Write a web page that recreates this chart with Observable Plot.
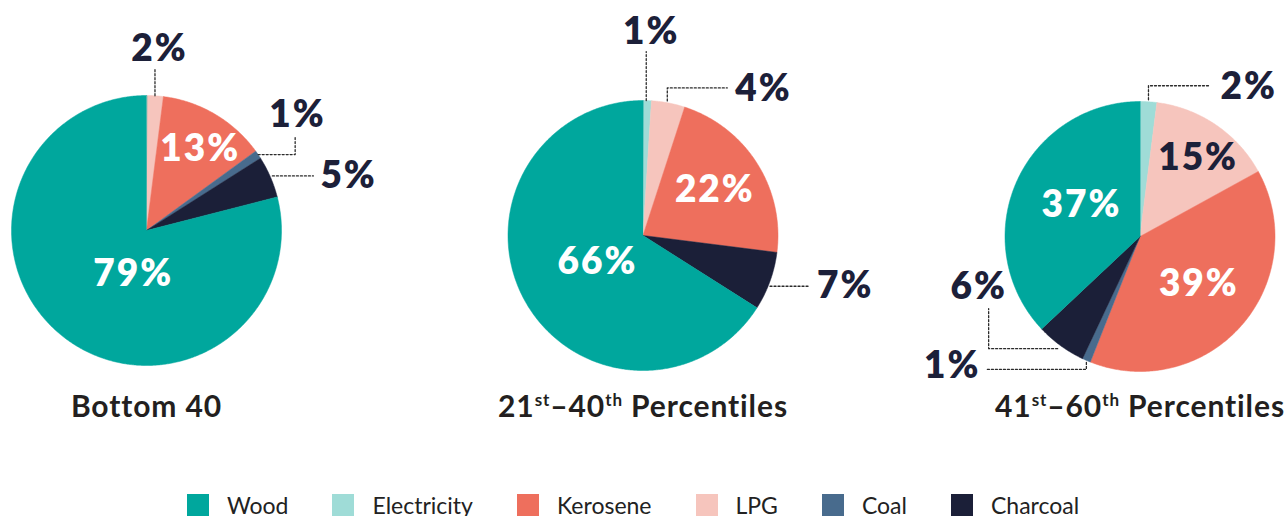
<!DOCTYPE html>
<html>
<head>
<meta charset="utf-8">
<script src="https://cdn.jsdelivr.net/npm/d3@7"></script>
<script src="https://cdn.jsdelivr.net/npm/@observablehq/plot@0.6"></script>
<style>
  body { margin: 0; background: #fff; font-family: Lato, "Open Sans", sans-serif; }
  #legend { display: flex; align-items: center; padding-left: 187px; margin-top: 14px; height: 22px; }
  .item { display: flex; align-items: center; margin-right: 44px; }
  .sw { width: 22px; height: 22px; margin-right: 18px; }
  .lab { font-size: 23px; line-height: 22px; color: #222; font-weight: 400; }
</style>
</head>
<body>
<div id="chart"></div>
<div id="legend"></div>
<script>
// Cooking fuel shares (%) by consumption group
const fuels = ["Wood", "Electricity", "Kerosene", "LPG", "Coal", "Charcoal"];
const fuelColors = ["#00a79d", "#9fdcd7", "#ee6f5d", "#f6c5bd", "#486b8d", "#1b1f38"];
const sliceOrder = ["Electricity", "LPG", "Kerosene", "Coal", "Charcoal", "Wood"];
const groups = ["Bottom 40", "21st–40th Percentiles", "41st–60th Percentiles"];
const sharesBottom40 = [0, 2, 13, 1, 5, 79];
const shares21to40 = [1, 4, 22, 0, 7, 66];
const shares41to60 = [2, 15, 39, 1, 6, 37];

// Layout
const W = 1287, H = 480, R = 135;
const centers = [[146, 230], [642.5, 235], [1139.5, 236]];
const titleBaseline = 416;
const darkText = "#1c2039";

// Labels drawn inside their slice: radius fraction and angular nudge (degrees)
const insideLabels = [
  {g: 0, fuel: "Kerosene", r: 0.72, shift: 3, fill: "white"},
  {g: 0, fuel: "Wood", r: 0.34, shift: -21, fill: "white"},
  {g: 1, fuel: "Kerosene", r: 0.63, shift: 0, fill: "white"},
  {g: 1, fuel: "Wood", r: 0.39, shift: -1.5, fill: "white"},
  {g: 2, fuel: "LPG", r: 0.72, shift: 2.5, fill: darkText},
  {g: 2, fuel: "Kerosene", r: 0.56, shift: -2.5, fill: "white"},
  {g: 2, fuel: "Wood", r: 0.49, shift: 4.5, fill: "white"}
];

// Labels outside the pie, joined by a dotted leader starting at the slice edge
const callouts = [
  {g: 0, fuel: "LPG", route: [[0, 0], [0, -27]], dx: 4.5, dy: -8, anchor: "middle", line: "bottom"},
  {g: 0, fuel: "Coal", route: [[0, 0], [37, 0], [37, -17]], dx: 2.3, dy: -11, anchor: "middle", line: "bottom"},
  {g: 0, fuel: "Charcoal", route: [[2, -1], [43, -1]], dx: 7, dy: 0, anchor: "start", line: "middle"},
  {g: 1, fuel: "Electricity", route: [[-1, 0], [-1, -49]], dx: 5, dy: -8, anchor: "middle", line: "bottom"},
  {g: 1, fuel: "LPG", route: [[-1, -2], [-1, -15], [59, -15]], dx: 8, dy: 1, anchor: "start", line: "middle"},
  {g: 1, fuel: "Charcoal", route: [[0, 5], [40, 5]], dx: 7, dy: 0, anchor: "start", line: "middle"},
  {g: 2, fuel: "Electricity", route: [[0, -2], [0, -16], [60, -16]], dx: 12, dy: 1, anchor: "start", line: "middle"},
  {g: 2, fuel: "Charcoal", route: [[-3, 3], [-72, 3], [-72, -37]], dx: -10, dy: -10, anchor: "middle", line: "bottom"},
  {g: 2, fuel: "Coal", route: [[0, 2], [0, 9], [-101, 9]], dx: -5, dy: -3, anchor: "end", line: "middle"}
];

// Build slices (clockwise from 12 o'clock)
const shareTables = [sharesBottom40, shares21to40, shares41to60];
const slices = [];
shareTables.forEach((vals, g) => {
  let acc = 0;
  sliceOrder.forEach((fuel, k) => {
    const v = vals[k];
    if (v > 0) slices.push({g, fuel, value: v, a0: acc / 100 * 2 * Math.PI, a1: (acc + v) / 100 * 2 * Math.PI});
    acc += v;
  });
});
const findSlice = (g, fuel) => slices.find(s => s.g === g && s.fuel === fuel);
const polar = (g, a, r) => [centers[g][0] + r * Math.sin(a), centers[g][1] - r * Math.cos(a)];

const slicePts = [];
slices.forEach((s, i) => {
  const [cx, cy] = centers[s.g];
  slicePts.push({id: i, fuel: s.fuel, x: cx, y: cy});
  const n = Math.max(2, Math.ceil((s.a1 - s.a0) / (Math.PI / 360)));
  for (let j = 0; j <= n; ++j) {
    const [x, y] = polar(s.g, s.a0 + (s.a1 - s.a0) * j / n, R);
    slicePts.push({id: i, fuel: s.fuel, x, y});
  }
});

const inText = insideLabels.map(l => {
  const s = findSlice(l.g, l.fuel);
  const [x, y] = polar(l.g, (s.a0 + s.a1) / 2 + l.shift * Math.PI / 180, l.r * R);
  return {x, y, text: s.value + "%", fill: l.fill};
});

const leaderPts = [];
const outText = [];
callouts.forEach((c, i) => {
  const s = findSlice(c.g, c.fuel);
  const [sx, sy] = polar(c.g, (s.a0 + s.a1) / 2, R);
  c.route.forEach(([dx, dy]) => leaderPts.push({id: i, x: sx + dx, y: sy + dy}));
  const [ex, ey] = c.route[c.route.length - 1];
  outText.push({x: sx + ex + c.dx, y: sy + ey + c.dy, text: s.value + "%", anchor: c.anchor, line: c.line});
});

const titles = groups.map((t, g) => ({x: centers[g][0], y: titleBaseline, text: t}));

const pctStyle = {fontSize: 37, fontWeight: 800, fontFamily: "Lato, 'Open Sans', sans-serif"};
const outMarks = d3.groups(outText, d => d.anchor + "|" + d.line).map(([key, rows]) => {
  const [anchor, line] = key.split("|");
  return Plot.text(rows, {x: "x", y: "y", text: "text", textAnchor: anchor, lineAnchor: line, fill: darkText, ...pctStyle});
});

const chart = Plot.plot({
  width: W,
  height: H,
  margin: 0,
  x: {domain: [0, W], range: [0, W], axis: null},
  y: {domain: [0, H], range: [0, H], axis: null},
  color: {domain: fuels, range: fuelColors},
  marks: [
    Plot.line(slicePts, {x: "x", y: "y", z: "id", fill: "fuel", stroke: "fuel", strokeWidth: 0.5, curve: "linear-closed"}),
    Plot.line(leaderPts, {x: "x", y: "y", z: "id", stroke: "#2b2b2b", strokeWidth: 1.3, strokeDasharray: "2 2"}),
    Plot.text(inText.filter(d => d.fill === "white"), {x: "x", y: "y", text: "text", fill: "white", lineAnchor: "middle", ...pctStyle}),
    Plot.text(inText.filter(d => d.fill !== "white"), {x: "x", y: "y", text: "text", fill: darkText, lineAnchor: "middle", ...pctStyle}),
    ...outMarks,
    Plot.text(titles, {x: "x", y: "y", text: "text", lineAnchor: "bottom", fill: "#231f20",
      fontSize: 30, fontWeight: 700, fontFamily: "Lato, 'Open Sans', sans-serif"})
  ]
});

// Ordinal suffixes in the titles are set as superscripts
d3.select(chart).selectAll("text").each(function() {
  const t = this.textContent;
  if (/\d(st|th)\b/.test(t) && this.childElementCount === 0) {
    const parts = t.split(/(?<=\d)(st|th)/);
    this.textContent = "";
    parts.forEach((p, i) => {
      if (!p) return;
      const ts = d3.select(this).append("tspan").text(p);
      if (p === "st" || p === "th") ts.attr("dy", -11).attr("font-size", 17);
      else if (i > 0) ts.attr("dy", 11);
    });
  }
});
d3.select(chart).selectAll("text").style("letter-spacing", function() {
  const t = this.textContent;
  if (t.endsWith("%")) return "2px";
  if (t.includes("Percentiles") || t.includes("Bottom")) return "0.9px";
  return null;
});

document.getElementById("chart").append(chart);

// Legend
const legend = d3.select("#legend");
fuels.forEach((f, i) => {
  const item = legend.append("div").attr("class", "item");
  item.append("div").attr("class", "sw").style("background", fuelColors[i]);
  item.append("div").attr("class", "lab").text(f);
});
</script>
</body>
</html>
